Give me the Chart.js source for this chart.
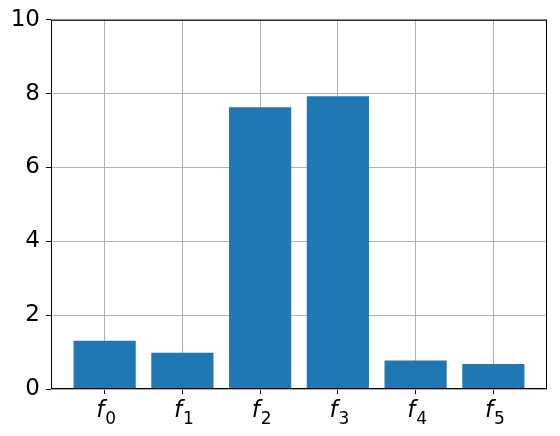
<!DOCTYPE html>
<html>
<head>
<meta charset="utf-8">
<script src="https://cdn.jsdelivr.net/npm/chart.js@4/dist/chart.umd.min.js"></script>
<style>
  html, body { margin: 0; padding: 0; background: #fff; }
  #wrap { width: 560px; height: 436px; }
</style>
</head>
<body>
<div id="wrap"><canvas id="barChart" width="560" height="436"></canvas></div>
<script>
// values
var subscripts = ['0', '1', '2', '3', '4', '5'];
var positions = [0, 1, 2, 3, 4, 5];
var values = [1.31, 0.98, 7.63, 7.93, 0.77, 0.68];
var yTicks = [0, 2, 4, 6, 8, 10];

var points = positions.map(function (p, i) {
    return { x: p, y: values[i] };
});

// matplotlib style frame + mathtext-like f_i labels
var frameAndLabels = {
    id: 'frameAndLabels',
    afterDraw: function (chart) {
        var ctx = chart.ctx;
        var a = chart.chartArea;
        ctx.save();
        ctx.strokeStyle = '#000';
        ctx.lineWidth = 1;
        ctx.strokeRect(a.left + 0.5, a.top + 0.5, a.right - a.left - 1, a.bottom - a.top - 1);

        var xs = chart.scales.x;
        ctx.fillStyle = '#000';
        ctx.textBaseline = 'alphabetic';
        ctx.textAlign = 'left';
        positions.forEach(function (p, i) {
            var px = xs.getPixelForValue(p);
            ctx.font = 'italic 23px "DejaVu Sans"';
            var wf = ctx.measureText('f').width;
            ctx.font = '17px "DejaVu Sans"';
            var ws = ctx.measureText(subscripts[i]).width;
            var start = px - (wf + ws) / 2 + 2;
            ctx.font = 'italic 23px "DejaVu Sans"';
            ctx.fillText('f', start - 1, 417);
            ctx.font = '17px "DejaVu Sans"';
            ctx.fillText(subscripts[i], start + wf, 424);
        });
        ctx.restore();
    }
};

new Chart('barChart', {
    type: 'bar',
    data: {
        datasets: [{
            data: points,
            backgroundColor: '#1f77b4',
            borderWidth: 0,
            barPercentage: 0.8,
            categoryPercentage: 1.0
        }]
    },
    options: {
        responsive: false,
        animation: false,
        events: [],
        layout: { padding: { top: 19, right: 13, bottom: 0, left: 0 } },
        plugins: {
            legend: { display: false },
            tooltip: { enabled: false }
        },
        scales: {
            x: {
                type: 'linear',
                min: -0.69,
                max: 5.69,
                offset: false,
                z: 1,
                border: { display: false },
                grid: {
                    offset: false,
                    color: '#b0b0b0',
                    lineWidth: 1,
                    drawTicks: true,
                    tickLength: 5,
                    tickColor: '#000'
                },
                ticks: { display: false },
                afterBuildTicks: function (scale) {
                    scale.ticks = positions.map(function (p) { return { value: p }; });
                },
                afterFit: function (scale) { scale.height = 47; }
            },
            y: {
                min: 0,
                max: 10,
                z: 1,
                border: { display: false },
                grid: {
                    color: '#b0b0b0',
                    lineWidth: 1,
                    drawTicks: true,
                    tickLength: 5,
                    tickColor: '#000'
                },
                ticks: {
                    color: '#000',
                    padding: 6,
                    font: { family: 'DejaVu Sans', size: 23 }
                },
                afterBuildTicks: function (scale) {
                    scale.ticks = yTicks.map(function (v) { return { value: v }; });
                },
                afterFit: function (scale) { scale.width = 51; }
            }
        }
    },
    plugins: [frameAndLabels]
});
</script>
</body>
</html>
